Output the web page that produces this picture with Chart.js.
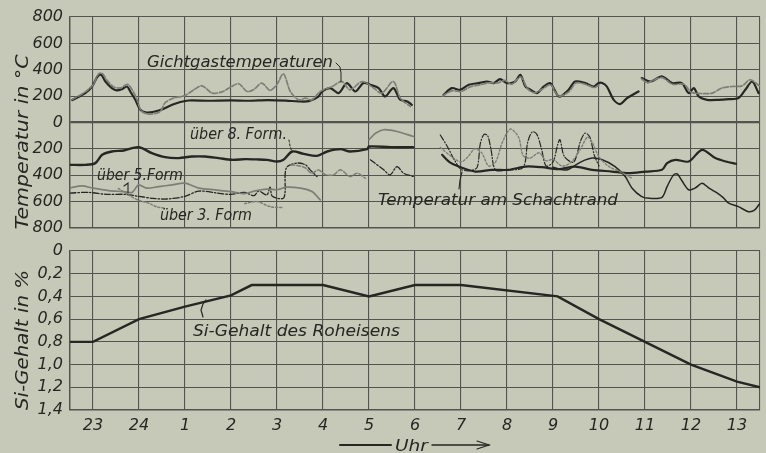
<!DOCTYPE html>
<html>
<head>
<meta charset="utf-8">
<script src="https://cdn.jsdelivr.net/npm/chart.js@4.4.1/dist/chart.umd.min.js"></script>
<style>
  html, body { margin: 0; padding: 0; background: rgb(198, 201, 184); }
  #wrap { position: relative; width: 766px; height: 453px; overflow: hidden; }
  canvas { position: absolute; left: 0; top: 0; }
</style>
</head>
<body>
<div id="wrap">
  <canvas id="tempChart" width="766" height="453"></canvas>
  <canvas id="siChart" width="766" height="453"></canvas>
</div>
<script>
// x = Stunden seit 23 Uhr (0 = 23 Uhr, 14 = 13 Uhr)
const hourLabels = ['23', '24', '1', '2', '3', '4', '5', '6', '7', '8', '9', '10', '11', '12', '13'];
const hourTicks = [-0.5, 0, 1, 2, 3, 4, 5, 6, 7, 8, 9, 10, 11, 12, 13, 14, 14.5];
const tempTicks = [-800, -600, -400, -200, 0, 200, 400, 600, 800];
const siTicks = [0, 0.2, 0.4, 0.6, 0.8, 1.0, 1.2, 1.4];
const siTickLabels = ['0', '0,2', '0,4', '0,6', '0,8', '1,0', '1,2', '1,4'];

// Gichtgastemperaturen (oben, positiv)
const gasDark = [
  [-0.45,170],[-0.17,223],[-0.02,273],[0.10,349],[0.18,362],[0.27,311],[0.41,261],[0.52,243],[0.63,253],[0.74,273],
  [0.81,235],[0.92,172],[1.03,96],[1.17,76],[1.43,91],[1.72,134],[1.90,155],[2.08,167],[2.5,165],[3.0,168],[3.4,165],
  [3.8,170],[4.2,166],[4.47,160],[4.69,162],[4.90,197],[4.98,235],[5.16,261],[5.34,223],[5.52,299],[5.70,235],
  [5.88,299],[6.03,286],[6.21,261],[6.35,197],[6.53,261],[6.68,172],[6.83,160],[6.93,134],
  null,
  [7.62,210],[7.80,261],[7.98,248],[8.17,286],[8.38,299],[8.57,311],[8.71,299],[8.85,329],[9.0,299],[9.18,311],
  [9.29,362],[9.40,273],[9.51,248],[9.65,223],[9.80,273],[9.94,299],[10.09,210],[10.16,197],[10.34,248],[10.48,311],
  [10.70,299],[10.88,273],[10.99,299],[11.07,299],[11.17,273],[11.32,172],[11.46,140],[11.61,185],[11.86,235],
  null,
  [11.93,337],[12.12,311],[12.37,349],[12.59,299],[12.80,299],[12.95,223],[13.06,261],[13.17,197],[13.35,172],
  [13.60,172],[13.82,177],[14.03,185],[14.18,248],[14.33,311],[14.47,223]
];
const gasGrey = [
  [-0.45,175],[-0.17,232],[0.0,285],[0.12,368],[0.2,372],[0.3,322],[0.45,270],[0.6,262],[0.75,290],[0.85,248],
  [0.95,180],[1.05,88],[1.2,64],[1.45,80],[1.57,150],[1.75,185],[2.0,205],[2.2,250],[2.37,278],[2.59,223],[2.8,232],
  [3.0,270],[3.17,294],[3.35,235],[3.5,252],[3.67,299],[3.85,243],[4.0,290],[4.14,370],[4.29,235],[4.47,172],
  [4.62,185],[4.76,172],[4.94,235],[5.20,273],[5.41,311],[5.59,248],[5.85,311],[6.10,261],[6.28,223],[6.53,311],
  [6.68,185],[6.90,121],
  null,
  [7.6,200],[7.8,240],[8.0,235],[8.2,270],[8.4,285],[8.6,300],[8.8,300],[8.95,320],[9.1,290],[9.3,345],[9.45,255],
  [9.6,225],[9.75,250],[9.95,285],[10.12,200],[10.35,235],[10.5,300],[10.7,290],[10.9,265],[11.0,285],
  null,
  [11.93,330],[12.05,300],[12.15,315],[12.37,340],[12.6,290],[12.85,290],[13.0,230],[13.2,220],[13.46,223],
  [13.67,261],[13.89,273],[14.11,278],[14.29,324],[14.5,273]
];

// Temperaturen im Schacht (unten, nach unten gezählt)
const form8 = [
  [-0.5,-321],[-0.17,-321],[0.05,-308],[0.20,-245],[0.41,-220],[0.67,-212],[0.99,-187],[1.28,-232],[1.57,-263],
  [1.86,-270],[2.15,-258],[2.44,-258],[2.73,-270],[3.02,-283],[3.31,-278],[3.55,-280],[3.78,-283],[4.0,-296],
  [4.14,-283],[4.33,-220],[4.58,-238],[4.87,-253],[5.09,-220],[5.38,-202],[5.59,-220],[5.96,-202],[6.0,-182],
  [6.47,-187],[6.96,-187]
];
const form8Grey = [[6.0,-130],[6.15,-80],[6.32,-55],[6.61,-68],[6.97,-106]];
const form5Grey = [
  [-0.5,-495],[-0.24,-481],[0,-498],[0.34,-516],[0.67,-524],[0.85,-530],[0.99,-473],[1.17,-498],[1.43,-486],
  [1.72,-473],[2.0,-460],[2.3,-498],[2.66,-511],[3.0,-524],[3.3,-540],[3.5,-520],[3.78,-505],[4.0,-510],
  [4.2,-490],[4.51,-498],[4.76,-524],[4.94,-587]
];
const form5Mid = [
  [4.3,-320],[4.5,-330],[4.62,-345],[4.75,-385],[4.9,-360],[5.05,-395],[5.23,-397],[5.38,-359],[5.59,-410],
  [5.74,-384],[5.92,-422]
];
const form5Dark = [
  [-0.5,-535],[-0.1,-530],[0.3,-545],[0.7,-545],[1.0,-560],[1.3,-575],[1.6,-580],[2.0,-560],[2.3,-520],
  [2.7,-535],[3.0,-545],[3.3,-530],[3.5,-555],[3.6,-520],[3.78,-549],[3.85,-490],[3.9,-560],[4.15,-570],
  [4.2,-346],[4.43,-308],[4.62,-321],[4.72,-359],[4.87,-410],
  null,
  [6.03,-283],[6.32,-359],[6.46,-397],[6.61,-334],[6.75,-384],[6.97,-410]
];
const form3 = [
  [0.55,-500],[0.75,-545],[0.99,-590],[1.21,-612],[1.39,-640],[1.55,-648],
  null,
  [3.3,-615],[3.57,-600],[3.85,-638],[4.14,-645]
];
const schachtMain = [
  [7.59,-245],[7.75,-300],[7.95,-334],[8.31,-372],[8.67,-359],[9.03,-359],[9.40,-334],[9.76,-339],[10.12,-354],
  [10.48,-334],[10.85,-359],[11.28,-372],[11.64,-384],[12.01,-372],[12.37,-359],[12.48,-308],[12.66,-283],
  [12.95,-296],[13.24,-207],[13.53,-270],[13.76,-296],[13.98,-313]
];
const schachtLow = [
  [10.0,-340],[10.3,-360],[10.6,-300],[10.85,-270],[11.07,-283],[11.35,-334],[11.57,-410],[11.72,-498],
  [11.93,-562],[12.1,-575],[12.37,-567],[12.48,-486],[12.62,-397],[12.7,-390],[12.8,-440],[12.95,-510],
  [13.1,-495],[13.24,-460],[13.4,-500],[13.55,-530],[13.7,-570],[13.82,-612],[14.03,-638],[14.25,-676],
  [14.38,-665],[14.5,-612]
];
const schachtA = [
  [7.55,-95],[7.7,-180],[7.85,-280],[8.0,-355],[8.2,-365],[8.35,-340],[8.42,-160],[8.5,-90],[8.58,-100],
  [8.65,-200],[8.75,-360],[9.0,-360],[9.35,-340],[9.45,-150],[9.55,-70],[9.65,-90],[9.75,-200],[9.85,-330],
  [10.0,-300],[10.1,-170],[10.15,-130],[10.25,-260],[10.45,-300],[10.6,-140],[10.7,-80],[10.8,-110],
  [10.9,-250],[11.0,-330]
];
const schachtB = [
  [7.55,-190],[7.8,-260],[8.0,-300],[8.15,-260],[8.3,-200],[8.45,-230],[8.6,-330],[8.75,-300],[8.9,-150],
  [9.07,-50],[9.25,-110],[9.35,-250],[9.5,-270],[9.7,-230],[9.85,-290],[10.0,-280],[10.2,-330],[10.4,-300],
  [10.6,-200],[10.75,-110],[10.85,-150],[11.0,-260],[11.2,-330],[11.5,-380],[11.7,-420]
];

// Si-Gehalt des Roheisens in %
const siHours = [-0.5, 0, 1, 2, 3, 3.45, 5, 6, 7, 8, 10.1, 11, 12, 13, 14, 14.5];
const siValues = [0.8, 0.8, 0.6, 0.49, 0.39, 0.3, 0.3, 0.4, 0.3, 0.3, 0.4, 0.6, 0.8, 1.0, 1.15, 1.2];

const INK = '#262623';
const GREY = '#7d7e76';
const GRID = '#53544e';
const FONT = '"DejaVu Sans", sans-serif';
const tickFont = { family: FONT, style: 'italic', size: 16 };

function pts(pairs) {
  let lastX = 0;
  return pairs.map(p => {
    if (!p) return { x: lastX, y: null };
    lastX = p[0];
    return { x: p[0], y: p[1] };
  });
}

function line(data, color, width, dash) {
  return {
    data: pts(data),
    borderColor: color,
    borderWidth: width,
    borderDash: dash || [],
    pointRadius: 0,
    tension: 0.3,
    fill: false,
    spanGaps: false,
    borderCapStyle: 'round',
    borderJoinStyle: 'round'
  };
}

function hourAxis(showLabels) {
  return {
    type: 'linear',
    min: -0.5,
    max: 14.5,
    afterBuildTicks: s => { s.ticks = hourTicks.map(v => ({ value: v })); },
    afterFit: s => { s.height = showLabels ? 43 : 0; },
    grid: { color: GRID, lineWidth: 1.1, drawTicks: false },
    border: { color: GRID, width: 1.4 },
    ticks: {
      display: showLabels,
      padding: 6,
      color: INK,
      font: tickFont,
      maxRotation: 0,
      autoSkip: false,
      callback: v => Number.isInteger(v) ? hourLabels[v] : ''
    }
  };
}

function fitText(ctx, text, x0, x1, y, size) {
  ctx.save();
  ctx.font = 'italic ' + size + 'px ' + FONT;
  const w = ctx.measureText(text).width;
  ctx.translate(x0, y);
  ctx.scale((x1 - x0) / w, 1);
  ctx.fillStyle = INK;
  ctx.textAlign = 'left';
  ctx.textBaseline = 'alphabetic';
  ctx.fillText(text, 0, 0);
  ctx.restore();
}

function vText(ctx, text, cx, cy, len, size) {
  ctx.save();
  ctx.font = 'italic ' + size + 'px ' + FONT;
  const w = ctx.measureText(text).width;
  ctx.translate(cx, cy);
  ctx.rotate(-Math.PI / 2);
  ctx.scale(len / w, 1);
  ctx.fillStyle = INK;
  ctx.textAlign = 'center';
  ctx.textBaseline = 'middle';
  ctx.fillText(text, 0, 0);
  ctx.restore();
}

function stroke(ctx, p, width, dash, color) {
  ctx.save();
  ctx.strokeStyle = color || INK;
  ctx.lineWidth = width;
  ctx.setLineDash(dash || []);
  ctx.lineCap = 'round';
  ctx.beginPath();
  ctx.moveTo(p[0][0], p[0][1]);
  for (let i = 1; i < p.length; i++) ctx.lineTo(p[i][0], p[i][1]);
  ctx.stroke();
  ctx.restore();
}

const tempLabels = {
  id: 'tempLabels',
  afterDraw(chart) {
    const ctx = chart.ctx;
    vText(ctx, 'Temperatur in °C', 23, 142, 175, 18);
    fitText(ctx, 'Gichtgastemperaturen', 147, 333, 67, 16);
    stroke(ctx, [[336, 63], [340, 67], [341, 73], [341, 82]], 1);
    fitText(ctx, 'über 8. Form.', 190, 287, 139, 15);
    stroke(ctx, [[289, 140], [290, 146], [292, 152]], 1, [2, 2]);
    fitText(ctx, 'über 5.Form', 97, 183, 180, 15);
    stroke(ctx, [[124, 186], [128, 183], [128, 193]], 1.1);
    fitText(ctx, 'über 3. Form', 160, 252, 220, 16);
    fitText(ctx, 'Temperatur am Schachtrand', 378, 618, 205, 16);
    stroke(ctx, [[459, 189], [460, 180], [462, 172]], 1.1);
  }
};

const siLabels = {
  id: 'siLabels',
  afterDraw(chart) {
    const ctx = chart.ctx;
    vText(ctx, 'Si-Gehalt in %', 23, 340, 140, 18);
    fitText(ctx, 'Si-Gehalt des Roheisens', 193, 400, 336, 16);
    stroke(ctx, [[203, 317], [201, 310], [203, 304], [206, 300]], 1.2);
    fitText(ctx, 'Uhr', 395, 428, 451, 16);
    stroke(ctx, [[340, 445], [391, 445]], 2);
    stroke(ctx, [[432, 445], [489, 445]], 1.5);
    stroke(ctx, [[477, 441], [489, 445], [477, 449]], 1.2);
  }
};

new Chart(document.getElementById('tempChart'), {
  type: 'line',
  data: {
    datasets: [
      line(form3, GREY, 1.5, [2, 2]),
      line(schachtB, GREY, 1.4, [2, 2]),
      line(form5Grey, GREY, 1.7),
      line(form5Mid, GREY, 1.5, [4, 2]),
      line(form8Grey, GREY, 1.7),
      line(gasGrey, GREY, 1.7, [5, 2]),
      line(form5Dark, INK, 1.3, [6, 2, 1.5, 2]),
      line(schachtA, INK, 1.2, [6, 2, 1, 2]),
      line(schachtLow, INK, 1.5),
      line(schachtMain, INK, 2.2),
      line(form8, INK, 2.4),
      line(gasDark, INK, 2.2)
    ]
  },
  options: {
    responsive: false,
    animation: false,
    layout: { padding: { left: 0, right: 6, top: 17, bottom: 225 } },
    plugins: { legend: { display: false }, tooltip: { enabled: false } },
    scales: {
      x: hourAxis(false),
      y: {
        min: -800,
        max: 800,
        afterBuildTicks: s => { s.ticks = tempTicks.map(v => ({ value: v })); },
        afterFit: s => { s.width = 70; },
        grid: { color: GRID, lineWidth: c => (c.tick && c.tick.value === 0 ? 2.2 : 1.1), drawTicks: false },
        border: { color: GRID, width: 1.4 },
        ticks: { padding: 7, color: INK, font: tickFont, callback: v => String(Math.abs(v)) }
      }
    }
  },
  plugins: [tempLabels]
});

new Chart(document.getElementById('siChart'), {
  type: 'line',
  data: {
    datasets: [
      {
        data: siHours.map((h, i) => ({ x: h, y: siValues[i] })),
        borderColor: INK,
        borderWidth: 2.4,
        pointRadius: 0,
        tension: 0,
        fill: false
      }
    ]
  },
  options: {
    responsive: false,
    animation: false,
    layout: { padding: { left: 0, right: 6, top: 251, bottom: 0 } },
    plugins: { legend: { display: false }, tooltip: { enabled: false } },
    scales: {
      x: hourAxis(true),
      y: {
        min: 0,
        max: 1.4,
        reverse: true,
        afterBuildTicks: s => { s.ticks = siTicks.map(v => ({ value: v })); },
        afterFit: s => { s.width = 70; },
        grid: { color: GRID, lineWidth: 1.1, drawTicks: false },
        border: { color: GRID, width: 1.4 },
        ticks: { padding: 7, color: INK, font: tickFont, callback: (v, i) => siTickLabels[i] }
      }
    }
  },
  plugins: [siLabels]
});
</script>
</body>
</html>
